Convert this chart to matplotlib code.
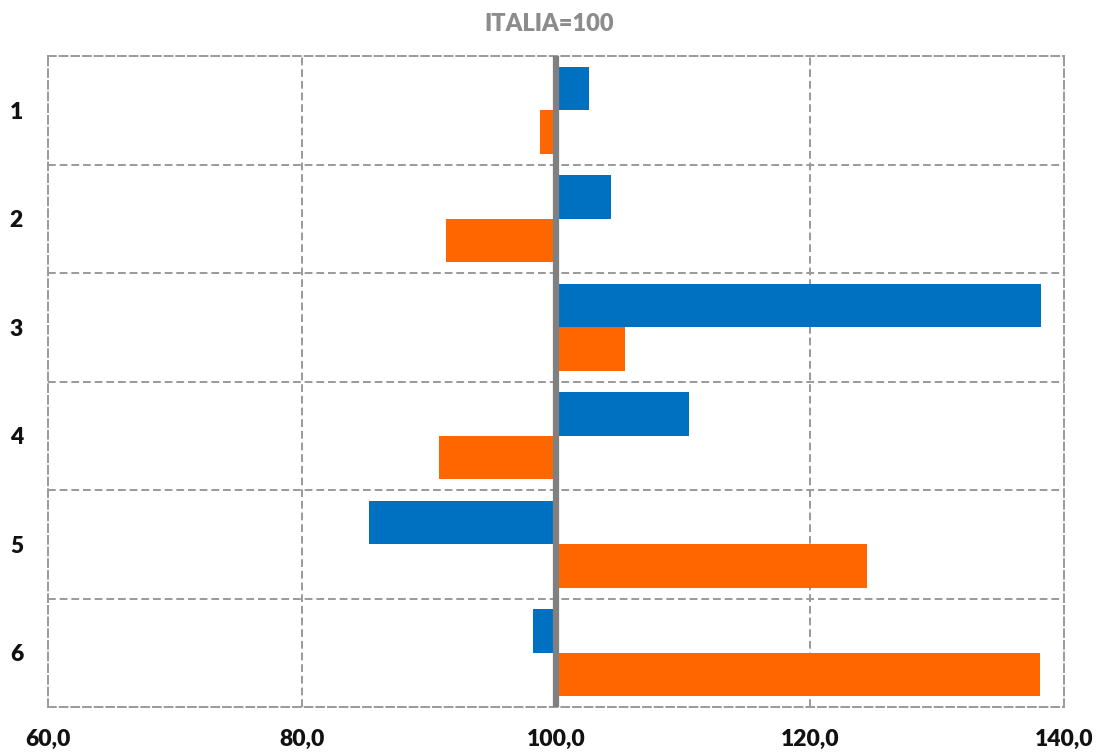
import matplotlib
matplotlib.use("Agg")
import matplotlib.pyplot as plt
import numpy as np
from matplotlib.ticker import FuncFormatter

# ---------- DATA ----------
categories = ["1", "2", "3", "4", "5", "6"]
blue_values = [102.6, 104.3, 138.2, 110.5, 85.3, 98.2]
orange_values = [98.7, 91.3, 105.4, 90.8, 124.5, 138.1]
x_ticks = [60, 80, 100, 120, 140]
baseline = 100

BLUE = "#0070C0"
ORANGE = "#FF6600"
GRID = "#9A9A9A"
DASH = (0, (4, 2))

plt.rcParams["font.family"] = ["Lato", "DejaVu Sans"]

fig = plt.figure(figsize=(10.99, 7.52), dpi=100)
ax = fig.add_axes([0.0437, 0.0598, 0.9245, 0.8657])

y = np.arange(len(categories))
h = 0.4

ax.barh(y - h / 2, np.array(blue_values) - baseline, left=baseline, height=h,
        color=BLUE, zorder=3)
ax.barh(y + h / 2, np.array(orange_values) - baseline, left=baseline, height=h,
        color=ORANGE, zorder=3)

# vertical axis crossing at 100
ax.axvline(baseline, color="#808080", linewidth=4.5, zorder=4)

ax.set_xlim(60, 140)
ax.set_ylim(len(categories) - 0.5, -0.5)
ax.set_xticks(x_ticks)
ax.xaxis.set_major_formatter(FuncFormatter(lambda v, p: f"{v:.1f}".replace(".", ",")))
ax.set_yticks(y)
ax.set_yticklabels(categories)

# dashed grid: category boundaries and x gridlines
ax.set_yticks(np.arange(0.5, len(categories) - 0.5, 1), minor=True)
ax.grid(which="minor", axis="y", color=GRID, linestyle=DASH, linewidth=1.4, zorder=1)
for xv in x_ticks[1:-1]:
    ax.axvline(xv, color=GRID, linestyle=DASH, linewidth=1.4, zorder=1)

for s in ax.spines.values():
    s.set_color(GRID)
    s.set_linestyle(DASH)
    s.set_linewidth(1.4)

ax.tick_params(axis="both", which="both", length=0)
ax.tick_params(axis="x", pad=16)
ax.tick_params(axis="y", pad=18)
for lbl in ax.get_xticklabels() + ax.get_yticklabels():
    lbl.set_fontsize(16.5)
    lbl.set_fontweight("heavy")
    lbl.set_color("#111111")

fig.text(0.5, 0.968, "ITALIA=100", ha="center", va="center",
         fontsize=17, fontweight="heavy", color="#8C8C8C")

fig.savefig("out.png", dpi=100, facecolor="white")
